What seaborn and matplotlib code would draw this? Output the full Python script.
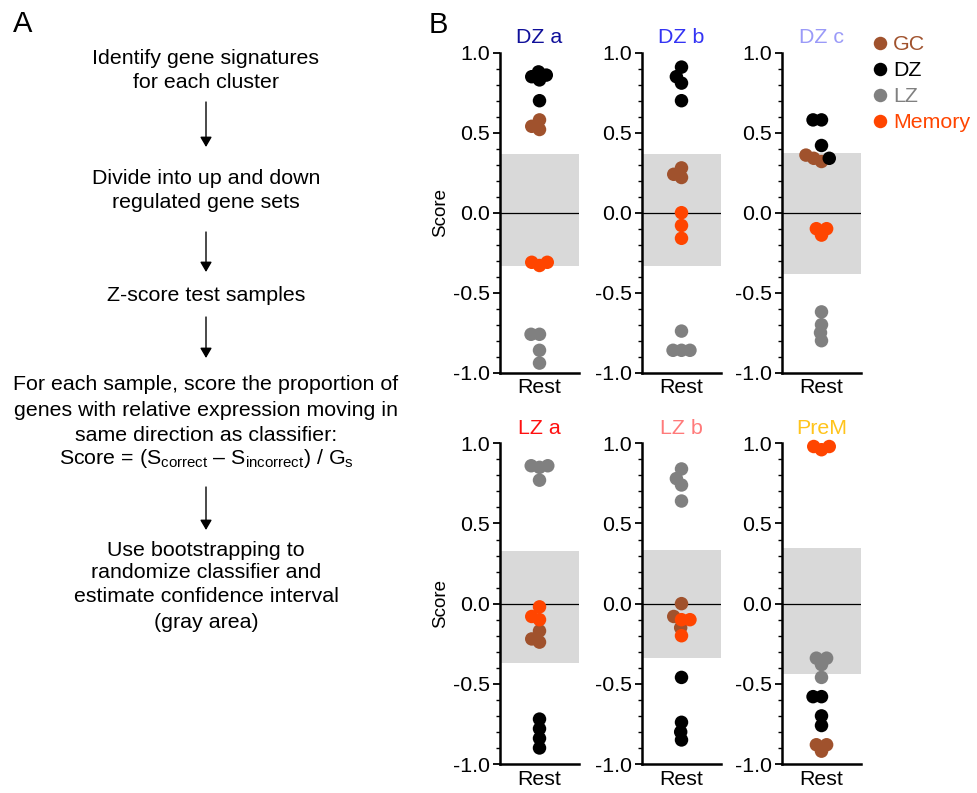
import numpy as np
import pandas as pd
import matplotlib
matplotlib.use("Agg")
import matplotlib.pyplot as plt
import seaborn as sns

# ---------------- data ----------------
panels = ["DZ a", "DZ b", "DZ c", "LZ a", "LZ b", "PreM"]
title_colors = ["#10109A", "#3434F4", "#9A9AF8", "#FF1010", "#FF7A7A", "#FFC41C"]
groups = ["GC", "DZ", "LZ", "Memory"]
group_colors = ["#A0522D", "#000000", "#808080", "#FF4500"]

gc_vals = [
    [0.58, 0.54, 0.52],
    [0.28, 0.24, 0.22],
    [0.36, 0.34, 0.32],
    [-0.17, -0.22, -0.24],
    [0.00, -0.08, -0.15],
    [-0.88, -0.88, -0.92],
]
dz_vals = [
    [0.88, 0.86, 0.85, 0.83, 0.70],
    [0.91, 0.85, 0.81, 0.70],
    [0.58, 0.58, 0.42, 0.34],
    [-0.72, -0.78, -0.84, -0.90],
    [-0.46, -0.74, -0.80, -0.85],
    [-0.58, -0.58, -0.70, -0.76],
]
lz_vals = [
    [-0.76, -0.76, -0.86, -0.94],
    [-0.74, -0.86, -0.86, -0.86],
    [-0.62, -0.70, -0.75, -0.80],
    [0.86, 0.86, 0.85, 0.77],
    [0.84, 0.78, 0.74, 0.64],
    [-0.34, -0.34, -0.38, -0.46],
]
mem_vals = [
    [-0.31, -0.33, -0.31],
    [0.00, -0.08, -0.16],
    [-0.10, -0.10, -0.14],
    [-0.02, -0.08, -0.10],
    [-0.10, -0.10, -0.20],
    [0.98, 0.98, 0.96],
]
ci_low = [-0.33, -0.33, -0.38, -0.37, -0.34, -0.44]
ci_high = [0.37, 0.37, 0.37, 0.33, 0.335, 0.345]

category = "Rest"
ytick_vals = [-1.0, -0.5, 0.0, 0.5, 1.0]
ytick_labels = ["-1.0", "-0.5", "0.0", "0.5", "1.0"]

flow_blocks = [
    ["Identify gene signatures", "for each cluster"],
    ["Divide into up and down", "regulated gene sets"],
    ["Z-score test samples"],
    ["For each sample, score the proportion of",
     "genes with relative expression moving in",
     "same direction as classifier:",
     r"Score = (S$_\mathregular{correct}$ – S$_\mathregular{incorrect}$) / G$_\mathregular{s}$"],
    ["Use bootstrapping to", "randomize classifier and",
     "estimate confidence interval", "(gray area)"],
]

# ---------------- style ----------------
sns.set_theme(style="ticks")
plt.rcParams["font.family"] = ["Liberation Sans", "DejaVu Sans"]
plt.rcParams["mathtext.fontset"] = "custom"
plt.rcParams["mathtext.rm"] = "Liberation Sans"
plt.rcParams["mathtext.it"] = "Liberation Sans:italic"
for k in ["text.color", "axes.labelcolor", "xtick.color", "ytick.color"]:
    plt.rcParams[k] = "black"

W, H = 977, 793
fig = plt.figure(figsize=(W / 100, H / 100), dpi=100)
FS = 15.4

def fx(px):
    return px / W

def fy(py):
    return 1 - py / H

# ---------------- panel A (flow chart) ----------------
line_y = [[58, 82], [178, 202], [295], [385, 410, 435, 458], [550, 573, 597, 622]]
arrows = [(102, 147), (232, 272), (317, 358), (487, 530)]
cx = 206
for block, ys in zip(flow_blocks, line_y):
    for txt, yy in zip(block, ys):
        fig.text(fx(cx), fy(yy), txt, ha="center", va="center", fontsize=FS)
for (y0, y1) in arrows:
    fig.patches.append(matplotlib.patches.FancyArrowPatch(
        (fx(cx), fy(y0)), (fx(cx), fy(y1)), transform=fig.transFigure,
        arrowstyle="-|>,head_length=6,head_width=3.5", color="black", lw=1,
        shrinkA=0, shrinkB=0))
fig.text(fx(23), fy(24), "A", ha="center", va="center", fontsize=21)
fig.text(fx(438), fy(25), "B", ha="center", va="center", fontsize=21)

# ---------------- panel B ----------------
lefts = [500, 642, 782]
tops_px = [(52.7, 372.7), (443.3, 764.0)]
ax_w = 79
SWARM_SIZE = 5.8     # spacing used by the swarm layout
DOT_SIZE = 9.7       # displayed dot diameter (points)

swarm_axes = []
for i, name in enumerate(panels):
    r, c = divmod(i, 3)
    top, bot = tops_px[r]
    ax = fig.add_axes([fx(lefts[c]), fy(bot), fx(ax_w), (bot - top) / H])
    rows = []
    for g, vals in zip(groups, [gc_vals[i], dz_vals[i], lz_vals[i], mem_vals[i]]):
        for v in vals:
            rows.append({"cat": category, "score": v, "group": g})
    df = pd.DataFrame(rows)
    ax.axhspan(ci_low[i], ci_high[i], color="#d9d9d9", lw=0, zorder=0)
    ax.axhline(0, color="black", lw=0.9, zorder=1)
    sns.swarmplot(data=df, x="cat", y="score", hue="group", hue_order=groups,
                  palette=group_colors, size=SWARM_SIZE, ax=ax, legend=(i == 2),
                  clip_on=False, zorder=3, linewidth=0)
    ax.set_ylim(-1, 1)
    ax.set_xlim(-0.5, 0.5)
    ax.set_yticks(ytick_vals)
    ax.set_yticklabels(ytick_labels)
    ax.yaxis.set_minor_locator(matplotlib.ticker.MultipleLocator(0.1))
    ax.tick_params(axis="y", which="major", length=5, width=1.3, direction="out",
                   labelsize=FS, pad=2)
    ax.tick_params(axis="y", which="minor", length=3, width=1.0, direction="out")
    ax.tick_params(axis="x", length=0, labelsize=FS, pad=4)
    ax.set_xlabel("")
    ax.set_ylabel("Score" if c == 0 else "", fontsize=13.5, labelpad=3)
    for s in ["top", "right"]:
        ax.spines[s].set_visible(False)
    for s in ["left", "bottom"]:
        ax.spines[s].set_linewidth(1.8)
        ax.spines[s].set_color("black")
    ax.set_title(name, color=title_colors[i], fontsize=FS, pad=7)
    if i == 2:
        handles, labels = ax.get_legend_handles_labels()
        for h in handles:
            h.set_markersize(DOT_SIZE)
        ax.legend(handles, labels, loc="upper left",
                  bbox_to_anchor=(fx(874), fy(35)), bbox_transform=fig.transFigure,
                  frameon=False, fontsize=FS, handlelength=0.6, handletextpad=0.3,
                  labelspacing=0.33, borderpad=0, borderaxespad=0,
                  labelcolor=group_colors)
    swarm_axes.append(ax)

# lay out the swarms (tight, overlapping like the original), then enlarge dots
fig.canvas.draw()
for ax in swarm_axes:
    for coll in ax.collections:
        if "draw" in coll.__dict__:
            del coll.draw
            coll.set_sizes([DOT_SIZE ** 2])

fig.savefig("out.png", dpi=100)
